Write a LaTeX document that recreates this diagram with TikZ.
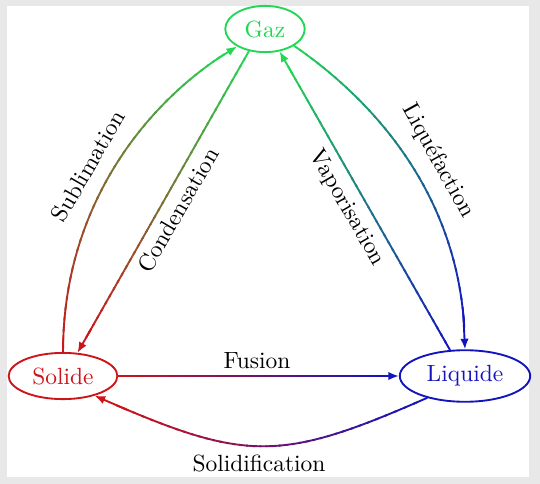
\documentclass[tikz,border=0pt]{standalone}
\usetikzlibrary{arrows.meta,shapes.geometric}
\definecolor{cG}{RGB}{35,215,85}
\definecolor{cR}{RGB}{205,20,25}
\definecolor{cB}{RGB}{20,20,190}
\newcommand\gradpath[3]{%
  \foreach \k in {0,...,39}{%
    \pgfmathsetmacro\ka{0.95*\k/40}%
    \pgfmathsetmacro\kb{min(0.95*(\k+1.3)/40,0.95)}%
    \pgfmathtruncatemacro\kc{100*(\k+0.5)/40}%
    \path #1 coordinate[pos=\ka] (gA) coordinate[pos=\kb] (gB);%
    \draw[conn, draw=#3!\kc!#2] (gA) -- (gB);%
  }%
  \path #1 coordinate[pos=0.92] (gA) coordinate[pos=1] (gB);%
  \draw[conn, draw=#3, -{Latex[length=4.5pt,width=3.6pt]}] (gA) -- (gB);%
}
\begin{document}
\begin{tikzpicture}[x=0.4264pt,y=-0.4264pt,
  st/.style={ellipse, draw, thick},
  conn/.style={thick, line cap=round},
  lbl/.style={inner sep=0pt}]
\fill[gray!18] (0,0) rectangle (540,484);
\fill[white] (7,6) rectangle (529,477);
\useasboundingbox (0,0) rectangle (540,484);
\node[st, cG] (G) at (265,29) {Gaz};
\node[st, cR] (S) at (63,376) {Solide};
\node[st, cB] (L) at (465,376) {Liquide};
\gradpath{(S.north) .. controls +(0,-153) and +(-83,48) .. (G.212)}{cR}{cG}
\gradpath{(G.234) -- (S.58)}{cG}{cR}
\gradpath{(L.120) -- (G.303)}{cB}{cG}
\gradpath{(G.330) .. controls +(80,55) and +(0,-150) .. (L.north)}{cG}{cB}
\gradpath{(S.east) -- (L.west)}{cR}{cB}
\gradpath{(L.210) .. controls +(-150,66) and +(150,66) .. (S.328)}{cB}{cR}
\node[lbl, rotate=60] (lsub) at (88,166) {Sublimation};
\node[lbl, rotate=60] (lcon) at (178,210) {Condensation};
\node[lbl, rotate=-60] (lvap) at (347,208) {Vaporisation};
\node[lbl, rotate=-61] (lliq) at (438,161) {Liquéfaction};
\node[lbl] (lfus) at (257,361) {Fusion};
\node[lbl] (lsol) at (259,463) {Solidification};
\end{tikzpicture}
\end{document}
